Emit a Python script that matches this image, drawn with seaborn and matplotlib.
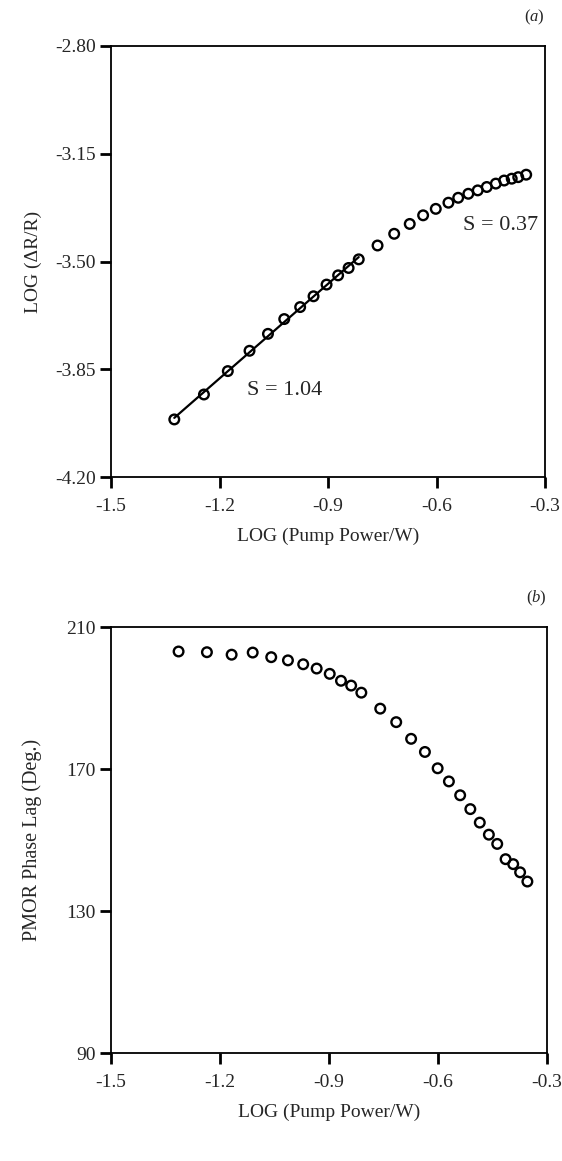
import numpy as np
import pandas as pd
import matplotlib
matplotlib.use("Agg")
import matplotlib.pyplot as plt
import seaborn as sns

# ---- data ----
log_power_a = [-1.325, -1.243, -1.177, -1.117, -1.066, -1.021, -0.977, -0.940, -0.904,
               -0.872, -0.843, -0.815, -0.763, -0.717, -0.674, -0.637, -0.602, -0.567,
               -0.540, -0.512, -0.486, -0.461, -0.436, -0.413, -0.392, -0.374, -0.352]
log_dr_r = [-4.013, -3.932, -3.856, -3.790, -3.735, -3.687, -3.648, -3.613, -3.575,
            -3.545, -3.521, -3.493, -3.448, -3.410, -3.378, -3.350, -3.329, -3.309,
            -3.293, -3.280, -3.269, -3.258, -3.247, -3.237, -3.231, -3.226, -3.218]
n_fit = 12  # first points used for the S = 1.04 fit line

log_power_b = [-1.314, -1.236, -1.168, -1.110, -1.059, -1.013, -0.971, -0.934, -0.898,
               -0.867, -0.839, -0.811, -0.759, -0.715, -0.674, -0.636, -0.601, -0.570,
               -0.539, -0.511, -0.485, -0.460, -0.437, -0.414, -0.393, -0.374, -0.354]
phase_lag = [203.1, 202.9, 202.2, 202.8, 201.5, 200.6, 199.5, 198.3, 196.8,
             194.85, 193.5, 191.5, 187.0, 183.2, 178.5, 174.8, 170.2, 166.5,
             162.6, 158.7, 154.9, 151.5, 148.9, 144.6, 143.2, 140.9, 138.3]

x_ticks = [-1.5, -1.2, -0.9, -0.6, -0.3]
y_ticks_a = [-4.20, -3.85, -3.50, -3.15, -2.80]
y_ticks_b = [90, 130, 170, 210]

sns.set_style("ticks")
plt.rcParams["font.family"] = ["Liberation Serif", "DejaVu Serif"]
plt.rcParams["mathtext.fontset"] = "custom"
plt.rcParams["mathtext.it"] = "Liberation Serif:italic"
plt.rcParams["mathtext.rm"] = "Liberation Serif"

fig = plt.figure(figsize=(5.62, 11.61), dpi=100)
W, H = 562, 1161
ax_a = fig.add_axes([111 / W, 1 - 477 / H, (545 - 111) / W, (477 - 46) / H])
ax_b = fig.add_axes([111 / W, 1 - 1053 / H, (547 - 111) / W, (1053 - 627) / H])

scat_kw = dict(s=48, marker="o", facecolors="none", edgecolors="black",
               linewidths=1.7, zorder=3)

df_a = pd.DataFrame({"x": log_power_a, "y": log_dr_r})
sns.regplot(data=df_a.iloc[:n_fit], x="x", y="y", ax=ax_a, scatter=False, ci=None,
            truncate=True, line_kws=dict(color="black", lw=1.6))
sns.scatterplot(data=df_a, x="x", y="y", ax=ax_a, **scat_kw)

df_b = pd.DataFrame({"x": log_power_b, "y": phase_lag})
sns.scatterplot(data=df_b, x="x", y="y", ax=ax_b, **scat_kw)

fs = 14
for ax, yt, fmt in [(ax_a, y_ticks_a, "{:.2f}"), (ax_b, y_ticks_b, "{:d}")]:
    ax.set_xlim(-1.5, -0.3)
    ax.set_ylim(yt[0], yt[-1])
    ax.set_xticks(x_ticks)
    ax.set_xticklabels([f"{v:.1f}" for v in x_ticks], fontsize=fs)
    ax.set_yticks(yt)
    ax.set_yticklabels([fmt.format(v) for v in yt], fontsize=fs)
    ax.tick_params(direction="out", length=8, width=2, color="black")
    ax.tick_params(axis="x", pad=7)
    ax.tick_params(axis="y", pad=3)
    for sp in ax.spines.values():
        sp.set_visible(True)
        sp.set_linewidth(1.3)
        sp.set_color("black")
    ax.set_xlabel("LOG (Pump Power/W)", fontsize=fs, labelpad=9)

ax_a.set_ylabel("LOG (\u0394R/R)", fontsize=fs)
ax_b.set_ylabel("PMOR Phase Lag (Deg.)", fontsize=14.5)
ax_a.yaxis.set_label_coords(-0.159, 0.5)
ax_b.yaxis.set_label_coords(-0.158, 0.5)

ax_a.text(-1.124, -3.918, "S = 1.04", fontsize=16, ha="left", va="center")
ax_a.text(-0.527, -3.384, "S = 0.37", fontsize=16, ha="left", va="center")

ax_a.text(1.0, 1.045, r"($\mathit{a}$)", transform=ax_a.transAxes, fontsize=12,
          ha="right", va="bottom")
ax_b.text(1.0, 1.045, r"($\mathit{b}$)", transform=ax_b.transAxes, fontsize=12,
          ha="right", va="bottom")

fig.savefig("out.png", dpi=100)
